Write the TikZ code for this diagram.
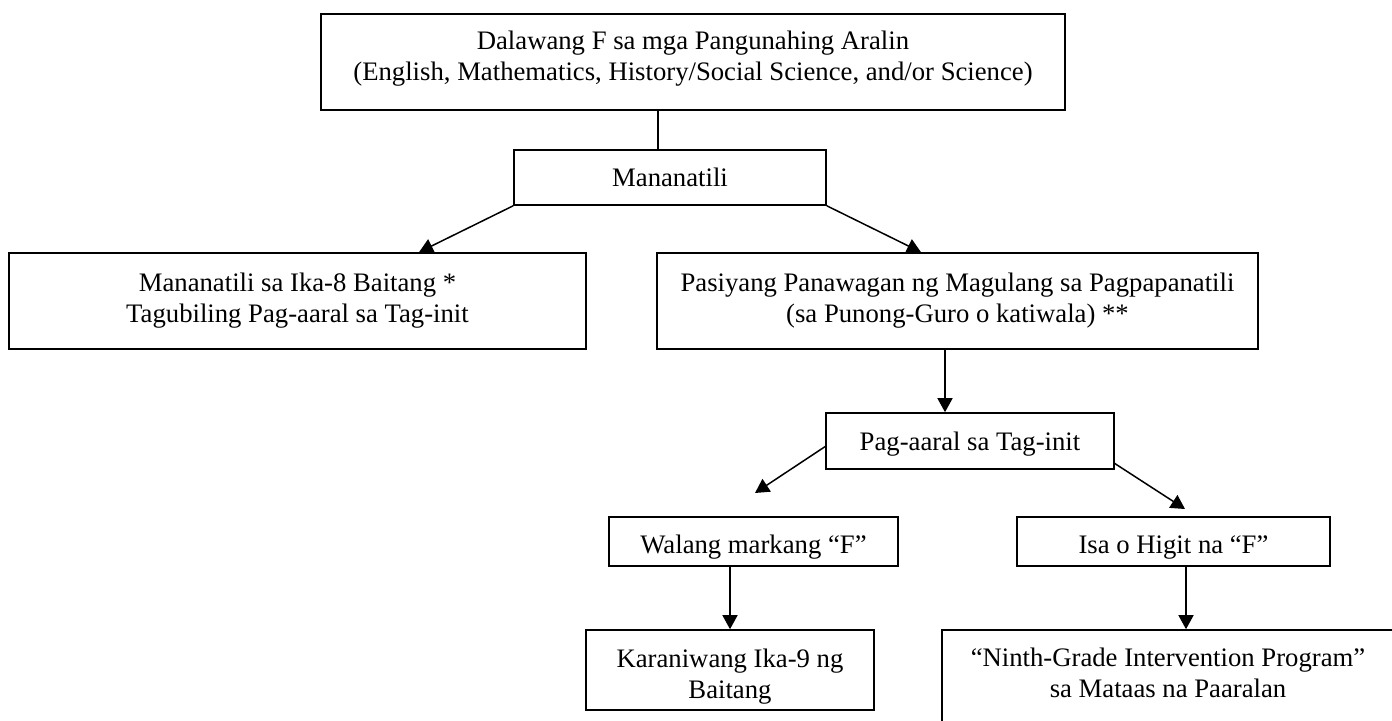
\documentclass[tikz,border=0pt]{standalone}
\usepackage{fontspec}
\setmainfont{Liberation Serif}
\usetikzlibrary{arrows.meta,calc}
% text block with extra space below (moves text up by half of #1)
\newcommand\padB[2]{\raisebox{0pt}[\height][\dimexpr\depth+#1\relax]{\begin{tabular}{@{}c@{}}#2\end{tabular}}}
% text block with extra space above (moves text down by half of #1)
\newcommand\padT[2]{\raisebox{0pt}[\dimexpr\height+#1\relax][\depth]{\begin{tabular}{@{}c@{}}#2\end{tabular}}}
\begin{document}
\begin{tikzpicture}[x=0.5pt,y=-0.5pt,
  box/.style={draw=black, fill=white, line width=0.8pt, align=center, inner sep=1pt,
    font=\fontsize{13.35}{15.5}\selectfont},
  conn/.style={draw=black, line width=0.75pt},
  arr/.style={conn, -{Triangle[length=7pt,width=7.5pt]}}]
\useasboundingbox (0,0) rectangle (1392,721);
\clip (0,0) rectangle (1392,721);
% boxes
\node[box, minimum width=372pt, minimum height=48pt] (top) at (693,62)
  {\padB{3pt}{Dalawang F sa mga Pangunahing Aralin\\(English, Mathematics, History/Social Science, and/or Science)}};
\node[box, minimum width=156pt, minimum height=27.5pt] (man) at (670,177.5) {\padT{3pt}{Mananatili}};
\node[box, minimum width=288.5pt, minimum height=48pt] (left) at (297.5,301)
  {\padB{0.5pt}{Mananatili sa Ika-8 Baitang *\\Tagubiling Pag-aaral sa Tag-init}};
\node[box, minimum width=300.5pt, minimum height=48pt] (right) at (957.5,301)
  {\padB{0.5pt}{Pasiyang Panawagan ng Magulang sa Pagpapanatili\\(sa Punong-Guro o katiwala) **}};
\node[box, minimum width=144pt, minimum height=28pt] (pag) at (970,441) {\padT{3.5pt}{Pag-aaral sa Tag-init}};
\node[box, minimum width=144.5pt, minimum height=24.5pt] (wal) at (753.5,541.5) {\padT{5.5pt}{Walang markang “F”}};
\node[box, minimum width=156.5pt, minimum height=24.5pt] (isa) at (1173.5,541.5) {\padT{5.5pt}{Isa o Higit na “F”}};
\node[box, minimum width=144pt, minimum height=40pt] (kar) at (730,670) {\padT{7pt}{Karaniwang Ika-9 ng\\Baitang}};
\node[box, minimum width=226pt, minimum height=55pt] (nin) at (1168,685)
  {\padB{9pt}{“Ninth-Grade Intervention Program”\\sa Mataas na Paaralan}};
% connector helpers
\coordinate (c1) at (658,0);
\coordinate (tipL) at (419,253);
\coordinate (tipR) at (921,253);
\coordinate (c2) at (945,0);
\coordinate (pagL) at (826,446);
\coordinate (pagR) at (1114,463);
\coordinate (tipW) at (755,493);
\coordinate (tipI) at (1185,509);
\coordinate (c3) at (730,0);
\coordinate (c4) at (1186,0);
% connectors
\draw[conn] (top.south -| c1) -- (man.north -| c1);
\draw[arr] (man.south west) -- (left.north -| tipL);
\draw[arr] (man.south east) -- (right.north -| tipR);
\draw[arr] (right.south -| c2) -- (pag.north -| c2);
\draw[arr] (pagL) -- (tipW);
\draw[arr] (pagR) -- (tipI);
\draw[arr] (wal.south -| c3) -- (kar.north -| c3);
\draw[arr] (isa.south -| c4) -- (nin.north -| c4);
\end{tikzpicture}
\end{document}
